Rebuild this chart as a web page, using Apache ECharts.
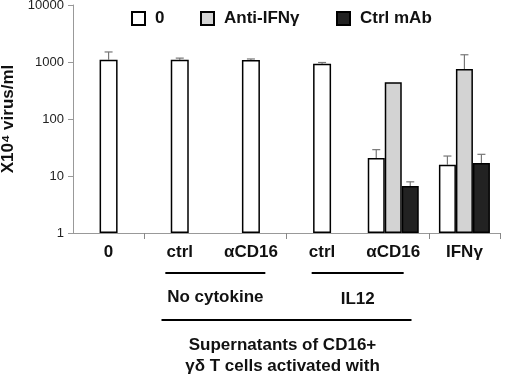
<!DOCTYPE html>
<html>
<head>
<meta charset="utf-8">
<script src="https://cdn.jsdelivr.net/npm/echarts@6/dist/echarts.min.js"></script>
<style>
  html, body { margin: 0; padding: 0; background: #fff; }
  #main { width: 520px; height: 381px; }
</style>
</head>
<body>
<div id="main"></div>
<script>
// categories along the x axis
const categories = ['0', 'ctrl', '\u03b1CD16', 'ctrl', '\u03b1CD16', 'IFN\u03b3']
// single white bars (first four categories)
const singleVals = [1100, 1100, 1080, 930, null, null]
const singleErr = [1500, 1170, 1130, 980, null, null]
// grouped bars (last two categories)
const zeroVals = [null, null, null, null, 20.7, 15.8]
const zeroErr = [null, null, null, null, 29, 22.4]
const antiVals = [null, null, null, null, 440, 753]
const antiErr = [null, null, null, null, null, 1340]
const ctrlVals = [null, null, null, null, 6.7, 16.9]
const ctrlErr = [null, null, null, null, 7.9, 24]
const yTicks = [1, 10, 100, 1000, 10000]

const font = '"Liberation Sans", Arial, Helvetica, sans-serif'
const chart = echarts.init(document.getElementById('main'))

function errData(vals, errs) {
  const out = []
  for (let i = 0; i < vals.length; i++) {
    if (vals[i] != null && errs[i] != null) out.push([i, vals[i], errs[i]])
  }
  return out
}

function errSeries(name, xIdx, vals, errs, offset) {
  return {
    name: name,
    type: 'custom',
    xAxisIndex: xIdx,
    z: 1,
    silent: true,
    data: errData(vals, errs),
    renderItem: function (params, api) {
      const base = api.coord([api.value(0), api.value(1)])
      const top = api.coord([api.value(0), api.value(2)])
      const x = base[0] + offset
      return {
        type: 'group',
        children: [
          { type: 'line', shape: { x1: x, y1: base[1], x2: x, y2: top[1] }, style: { stroke: '#777', lineWidth: 1.2 } },
          { type: 'line', shape: { x1: x - 4, y1: top[1], x2: x + 4, y2: top[1] }, style: { stroke: '#777', lineWidth: 1.2 } }
        ]
      }
    }
  }
}

const barStyle = function (fill) {
  return { color: fill, borderColor: '#000', borderWidth: 1.5 }
}

const legendText = { fontFamily: font, fontSize: 17, fontWeight: 'bold', color: '#111', padding: [0, 0, 0, 5] }
const legendBase = { top: 10, padding: 0, itemWidth: 13, itemHeight: 13, icon: 'rect', textStyle: legendText }

const option = {
  animation: false,
  legend: [
    Object.assign({ data: ['0'], left: 131 }, legendBase),
    Object.assign({ data: ['Anti-IFN\u03b3'], left: 200 }, legendBase),
    Object.assign({ data: ['Ctrl mAb'], left: 336 }, legendBase)
  ],
  grid: { left: 73, right: 20, top: 5, bottom: 148, outerBoundsMode: 'none', containLabel: false },
  xAxis: [
    {
      type: 'category',
      data: categories,
      axisLine: { lineStyle: { color: '#999', width: 1 } },
      axisTick: {
        show: true,
        length: 6,
        lineStyle: { color: '#888', width: 1 },
        interval: function (idx) { return idx === 1 || idx === 3 || idx === 5 }
      },
      axisLabel: { interval: 0, margin: 11, fontFamily: font, fontSize: 17, fontWeight: 'bold', color: '#111' }
    },
    {
      type: 'category',
      data: categories,
      show: false
    }
  ],
  yAxis: {
    type: 'log',
    logBase: 10,
    min: yTicks[0],
    max: yTicks[yTicks.length - 1],
    name: 'X10\u2074 virus/ml',
    nameLocation: 'middle',
    nameGap: 54,
    nameTextStyle: { fontFamily: font, fontSize: 17, fontWeight: 'bold', color: '#111' },
    axisLine: { show: true, lineStyle: { color: '#999', width: 1 } },
    axisTick: { show: true, length: 5, lineStyle: { color: '#999' } },
    splitLine: { show: false },
    minorTick: { show: false },
    axisLabel: {
      margin: 9, fontFamily: font, fontSize: 13, color: '#222',
      formatter: function (v) { return String(Math.round(v)) }
    }
  },
  series: [
    { name: '0', type: 'bar', xAxisIndex: 0, barWidth: 18, z: 2, itemStyle: barStyle('#fff'), data: singleVals },
    { name: '0', type: 'bar', xAxisIndex: 1, barWidth: 17, barGap: '0%', z: 2, itemStyle: barStyle('#fff'), data: zeroVals },
    { name: 'Anti-IFN\u03b3', type: 'bar', xAxisIndex: 1, barWidth: 17, barGap: '0%', z: 2, itemStyle: barStyle('#d3d3d3'), data: antiVals },
    { name: 'Ctrl mAb', type: 'bar', xAxisIndex: 1, barWidth: 17, barGap: '0%', z: 2, itemStyle: barStyle('#222'), data: ctrlVals },
    errSeries('err0', 0, singleVals, singleErr, 0),
    errSeries('errZero', 1, zeroVals, zeroErr, -17),
    errSeries('errAnti', 1, antiVals, antiErr, 0),
    errSeries('errCtrl', 1, ctrlVals, ctrlErr, 17)
  ]
}
chart.setOption(option)

// group annotations under the axis, placed from the category positions
const px = function (i) { return chart.convertToPixel({ xAxisIndex: 0 }, i) }
const noCytMid = (px(1) + px(2)) / 2
const il12Mid = (px(3) + px(4)) / 2
const allMid = (px(1) + px(4)) / 2
const bold = { fontFamily: font, fontSize: 17, fontWeight: 'bold', fill: '#111', textAlign: 'center', textVerticalAlign: 'middle' }

chart.setOption({
  graphic: [
    { type: 'line', shape: { x1: noCytMid - 50, y1: 273, x2: noCytMid + 50, y2: 273 }, style: { stroke: '#000', lineWidth: 2 } },
    { type: 'line', shape: { x1: il12Mid - 46, y1: 273, x2: il12Mid + 46, y2: 273 }, style: { stroke: '#000', lineWidth: 2 } },
    { type: 'text', x: noCytMid, y: 297, style: Object.assign({ text: 'No cytokine' }, bold) },
    { type: 'text', x: il12Mid, y: 299, style: Object.assign({ text: 'IL12' }, bold) },
    { type: 'line', shape: { x1: allMid - 125, y1: 320, x2: allMid + 125, y2: 320 }, style: { stroke: '#000', lineWidth: 2 } },
    { type: 'text', x: allMid - 4, y: 345, style: Object.assign({ text: 'Supernatants of CD16+' }, bold) },
    { type: 'text', x: allMid - 4, y: 366, style: Object.assign({ text: '\u03b3\u03b4 T cells activated with' }, bold) }
  ]
})
</script>
</body>
</html>
